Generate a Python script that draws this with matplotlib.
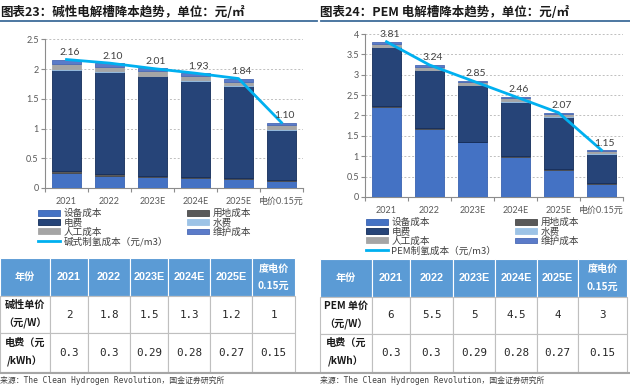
import matplotlib
matplotlib.use('Agg')
import matplotlib.pyplot as plt
from matplotlib.patches import Patch, Rectangle
from matplotlib.lines import Line2D
import numpy as np

plt.rcParams['font.family'] = ['Noto Sans CJK SC', 'DejaVu Sans']

# ---------------- data ----------------
categories = ['2021', '2022', '2023E', '2024E', '2025E', '电价0.15元']

# Alkaline electrolyser cost stack (元/m3)
alk_equip = [0.26, 0.21, 0.19, 0.17, 0.15, 0.11]
alk_land = [0.02, 0.02, 0.02, 0.02, 0.02, 0.02]
alk_elec = [1.71, 1.72, 1.67, 1.61, 1.55, 0.85]
alk_water = [0.01, 0.01, 0.01, 0.01, 0.01, 0.01]
alk_labor = [0.08, 0.08, 0.07, 0.07, 0.06, 0.07]
alk_maint = [0.07, 0.06, 0.05, 0.05, 0.04, 0.03]
alk_total = [2.16, 2.10, 2.01, 1.93, 1.84, 1.10]

# PEM electrolyser cost stack (元/m3)
pem_equip = [2.22, 1.67, 1.34, 0.99, 0.66, 0.33]
pem_land = [0.02, 0.02, 0.02, 0.02, 0.02, 0.02]
pem_elec = [1.43, 1.42, 1.39, 1.33, 1.29, 0.71]
pem_water = [0.01, 0.01, 0.01, 0.01, 0.01, 0.01]
pem_labor = [0.08, 0.08, 0.06, 0.07, 0.06, 0.06]
pem_maint = [0.05, 0.04, 0.03, 0.04, 0.03, 0.02]
pem_total = [3.81, 3.24, 2.85, 2.46, 2.07, 1.15]

series_names = ['设备成本', '用地成本', '电费', '水费', '人工成本', '维护成本']
series_colors = ['#4472C4', '#595959', '#264478', '#9DC3E6', '#A5A5A5', '#5B7BC9']
edge_colors = ['#3A63B0', '#4A4A4A', '#132C5A', '#9DC3E6', '#A5A5A5', '#4A6AB5']
line_color = '#00B0F0'

table_header = ['年份', '2021', '2022', '2023E', '2024E', '2025E', '度电价\n0.15元']
alk_unit_price = ['2', '1.8', '1.5', '1.3', '1.2', '1']
pem_unit_price = ['6', '5.5', '5', '4.5', '4', '3']
elec_price = ['0.3', '0.3', '0.29', '0.28', '0.27', '0.15']

# ---------------- figure ----------------
W, H = 630, 385
fig = plt.figure(figsize=(W / 100, H / 100), dpi=100)


def add_axes_px(x0, y0, x1, y1):
    return fig.add_axes([x0 / W, 1 - y1 / H, (x1 - x0) / W, (y1 - y0) / H])


def fline(x0, x1, y, color, lw):
    fig.add_artist(Line2D([x0 / W, x1 / W], [1 - y / H, 1 - y / H],
                          transform=fig.transFigure, color=color, lw=lw))


def ftext(x, y, s, **kw):
    fig.text(x / W, 1 - y / H, s, **kw)


num_font = ['Lato', 'DejaVu Sans']


def draw_chart(ax, stacks, totals, ymax, ystep):
    x = np.arange(len(categories))
    bottom = np.zeros(len(categories))
    for vals, color, ec in zip(stacks, series_colors, edge_colors):
        ax.bar(x, vals, width=0.66, bottom=bottom, color=color,
               edgecolor=ec, linewidth=0.6, zorder=3)
        bottom += np.array(vals)
    ax.plot(x, totals, color=line_color, lw=2.0, zorder=5)
    for xi, v in zip(x, totals):
        ax.annotate(f'{v:.2f}', (xi, v), xytext=(3, 7), textcoords='offset pixels',
                    ha='center', va='center', fontsize=7.5, color='#404040',
                    family=num_font, zorder=6)
    ax.set_xlim(-0.5, len(categories) - 0.5)
    ax.set_ylim(0, ymax)
    yt = np.arange(0, ymax + 1e-9, ystep)
    ax.set_yticks(yt)
    ax.set_yticklabels([f'{v:g}' for v in yt], family=num_font)
    ax.set_xticks(x)
    ax.set_xticklabels(categories)
    for lab in ax.get_xticklabels():
        lab.set_family(['Lato', 'Noto Sans CJK SC'])
    ax.set_xticks(np.arange(-0.5, len(categories)), minor=True)
    ax.tick_params(axis='x', which='major', length=0, pad=6.5,
                   labelsize=6.5, labelcolor='#595959')
    ax.tick_params(axis='x', which='minor', length=3, color='#8C8C8C', width=0.8)
    ax.tick_params(axis='y', length=3, color='#8C8C8C', width=0.8, pad=1.5,
                   labelsize=6.5, labelcolor='#595959')
    ax.yaxis.grid(True, color='#BFBFBF', linestyle=(0, (2, 2)), lw=0.7, zorder=0)
    ax.set_axisbelow(True)
    for s in ['top', 'right']:
        ax.spines[s].set_visible(False)
    for s in ['left', 'bottom']:
        ax.spines[s].set_color('#8C8C8C')
        ax.spines[s].set_linewidth(0.8)


def draw_legend(x_px, y_px, line_label):
    handles = [Patch(facecolor=c, edgecolor=e, lw=0.6) for c, e in zip(series_colors, edge_colors)]
    line_h = Line2D([], [], color=line_color, lw=2)
    order_h = [handles[0], handles[2], handles[4], line_h, handles[1], handles[3], handles[5]]
    order_l = [series_names[0], series_names[2], series_names[4], line_label,
               series_names[1], series_names[3], series_names[5]]
    fig.legend(order_h, order_l, loc='upper left', bbox_to_anchor=(x_px / W, 1 - y_px / H),
               ncol=2, frameon=False, fontsize=6.9, borderpad=0, borderaxespad=0,
               handlelength=2.3, handleheight=0.5, handletextpad=0.35,
               labelspacing=0.0, columnspacing=2.0, labelcolor='#404040')


def draw_table(x0, y0, x1, y1, col_w, row1_label, row1_vals):
    ax = add_axes_px(x0, y0, x1, y1)
    ax.set_xlim(0, x1 - x0)
    ax.set_ylim(y1 - y0, 0)
    ax.axis('off')
    th = y1 - y0
    rh = [th * 0.335, th * 0.325, th * 0.34]
    edges = np.concatenate([[0], np.cumsum(col_w)])
    ys = np.concatenate([[0], np.cumsum(rh)])
    rows = [table_header, [row1_label] + row1_vals, ['电费（元\n/kWh）'] + elec_price]
    for r in range(3):
        for c in range(len(col_w)):
            if r == 0:
                ax.add_patch(Rectangle((edges[c], ys[r]), col_w[c], rh[r],
                                       facecolor='#5B9BD5', edgecolor='#FFFFFF', lw=0.8,
                                       clip_on=False))
            else:
                ax.add_patch(Rectangle((edges[c], ys[r]), col_w[c], rh[r],
                                       facecolor='#FFFFFF', edgecolor='#BFBFBF', lw=0.8,
                                       clip_on=False))
            txt = rows[r][c]
            cx = edges[c] + col_w[c] / 2
            cy = ys[r] + rh[r] / 2
            if r == 0:
                if c == 0 or '\n' in txt:
                    ax.text(cx, cy, txt, ha='center', va='center', color='white',
                            fontsize=7.3, fontweight='bold', linespacing=1.9,
                            family=['Noto Sans CJK SC', 'DejaVu Sans'])
                else:
                    ax.text(cx, cy, txt, ha='center', va='center', color='white',
                            fontsize=7.8, fontweight='bold',
                            family=['Liberation Sans', 'DejaVu Sans'])
            elif c == 0:
                ax.text(cx, cy, txt, ha='center', va='center', color='#1a1a1a',
                        fontsize=7.3, fontweight='bold', linespacing=1.9,
                        family=['Noto Sans CJK SC', 'DejaVu Sans'])
            else:
                ax.text(cx, cy, txt, ha='center', va='center', color='#262626',
                        fontsize=7.8, family=['DejaVu Sans Mono', 'DejaVu Sans'])


# ---------------- titles ----------------
ftext(0, 12, '图表23：碱性电解槽降本趋势，单位：元/㎡', fontsize=9, fontweight='bold',
      color='#1a1a1a', va='center', ha='left')
ftext(320, 12, '图表24：PEM 电解槽降本趋势，单位：元/㎡', fontsize=9, fontweight='bold',
      color='#1a1a1a', va='center', ha='left')
fline(0, 317, 20.5, '#3E6C9A', 1.3)
fline(321, 630, 20.5, '#3E6C9A', 1.3)

# ---------------- charts ----------------
ax1 = add_axes_px(45, 39.3, 303, 188)
draw_chart(ax1, [alk_equip, alk_land, alk_elec, alk_water, alk_labor, alk_maint],
           alk_total, 2.5, 0.5)
ax2 = add_axes_px(365, 34, 623, 197)
draw_chart(ax2, [pem_equip, pem_land, pem_elec, pem_water, pem_labor, pem_maint],
           pem_total, 4, 0.5)

draw_legend(38, 209, '碱式制氢成本（元/m3）')
draw_legend(366, 218, 'PEM制氢成本（元/m3）')

# ---------------- tables ----------------
draw_table(0, 258, 295, 372, [50, 38, 42, 38, 42, 42, 43], '碱性单价\n（元/W）', alk_unit_price)
draw_table(320, 259, 627, 372, [52, 38, 43, 42, 42, 41, 49], 'PEM 单价\n（元/W）', pem_unit_price)

fline(0, 630, 372.5, '#A6A6A6', 1.5)

src = '来源：The Clean Hydrogen Revolution，国金证券研究所'
ftext(0, 380.5, src, fontsize=5.7, color='#404040', va='center', ha='left',
      family=['DejaVu Sans Mono', 'Noto Sans CJK SC'])
ftext(320, 380.5, src, fontsize=5.7, color='#404040', va='center', ha='left',
      family=['DejaVu Sans Mono', 'Noto Sans CJK SC'])

fig.savefig('out.png', dpi=100)
